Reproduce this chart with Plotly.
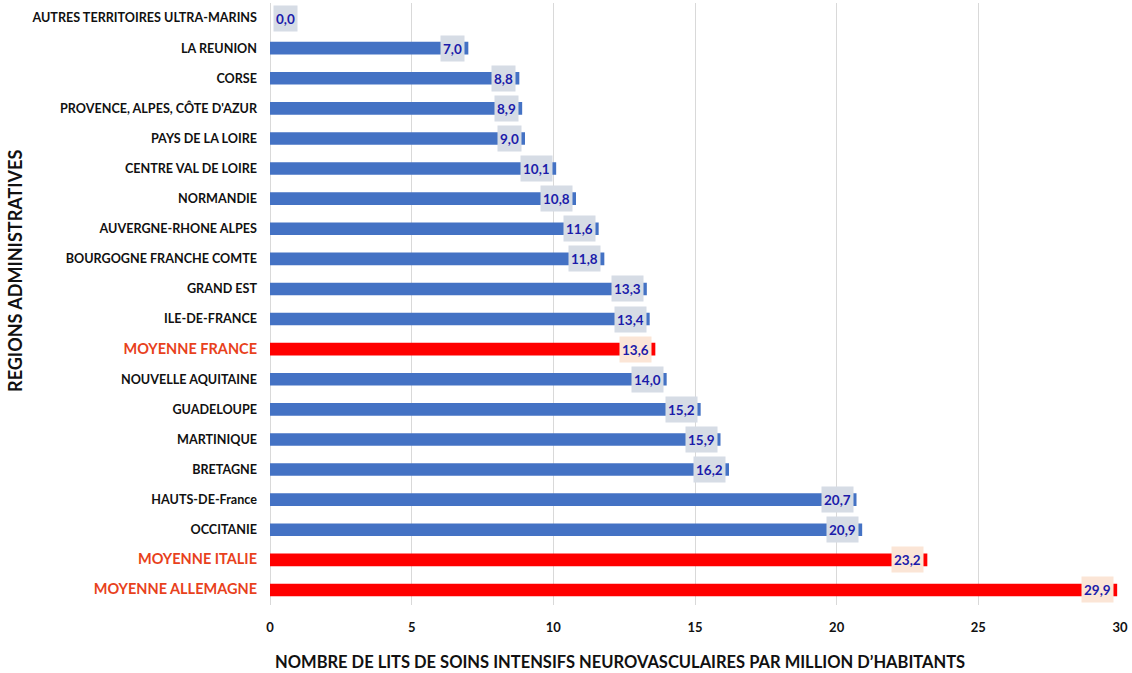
import plotly.graph_objects as go

regions = [
    "AUTRES TERRITOIRES ULTRA-MARINS", "LA REUNION", "CORSE", "PROVENCE, ALPES, CÔTE D'AZUR",
    "PAYS DE LA LOIRE", "CENTRE VAL DE LOIRE", "NORMANDIE", "AUVERGNE-RHONE ALPES",
    "BOURGOGNE FRANCHE COMTE", "GRAND EST", "ILE-DE-FRANCE", "MOYENNE FRANCE",
    "NOUVELLE AQUITAINE", "GUADELOUPE", "MARTINIQUE", "BRETAGNE", "HAUTS-DE-France",
    "OCCITANIE", "MOYENNE ITALIE", "MOYENNE ALLEMAGNE",
]
values = [0.0, 7.0, 8.8, 8.9, 9.0, 10.1, 10.8, 11.6, 11.8, 13.3, 13.4, 13.6,
          14.0, 15.2, 15.9, 16.2, 20.7, 20.9, 23.2, 29.9]
highlight = {"MOYENNE FRANCE", "MOYENNE ITALIE", "MOYENNE ALLEMAGNE"}

BLUE = "#4472c4"
RED = "#ff0000"
FONT = "Lato, Open Sans, sans-serif"
bar_colors = [RED if r in highlight else BLUE for r in regions]

fig = go.Figure(go.Bar(
    x=values, y=regions, orientation="h",
    marker=dict(color=bar_colors, line=dict(width=0)),
    width=0.42, hoverinfo="skip",
))

for r, v in zip(regions, values):
    hl = r in highlight
    fig.add_annotation(
        x=v, y=r, xref="x", yref="y",
        text=f"<b>{v:.1f}</b>".replace(".", ","),
        showarrow=False,
        xanchor="left" if v == 0 else "right",
        xshift=3 if v == 0 else -3,
        bgcolor="#fbe5d6" if hl else "#d6dce5",
        borderpad=2, height=21,
        font=dict(family=FONT, size=13.5, color="#1c1caa"),
    )

ticktext = []
for r in regions:
    if r in highlight:
        ticktext.append(f"<span style='font-size:14.5px;color:#e8411c'><b>{r}</b></span>")
    else:
        ticktext.append(f"<b>{r}</b>")

# axis titles as paper annotations
fig.add_annotation(
    x=(620 - 270) / 850, y=-0.095, xref="paper", yref="paper",
    text="<b>NOMBRE DE LITS DE SOINS INTENSIFS NEUROVASCULAIRES PAR MILLION D’HABITANTS</b>",
    showarrow=False, xanchor="center", yanchor="middle",
    font=dict(family=FONT, size=16.5, color="#111111"),
)
fig.add_annotation(
    x=-0.3, xref="paper", y=0.555, yref="paper",
    text="<b>REGIONS ADMINISTRATIVES</b>", textangle=-90,
    showarrow=False, xanchor="center", yanchor="middle",
    font=dict(family=FONT, size=18, color="#111111"),
)

fig.update_layout(
    width=1132, height=673,
    margin=dict(l=270, r=12, t=3, b=68),
    paper_bgcolor="white", plot_bgcolor="white",
    showlegend=False,
    font=dict(family=FONT, color="#111111"),
    xaxis=dict(
        range=[0, 30], dtick=5, showgrid=True, gridcolor="#d9d9d9", gridwidth=1,
        zeroline=True, zerolinecolor="#d9d9d9", zerolinewidth=1,
        tickfont=dict(size=13, color="#111111", family=FONT, weight="bold"),
        ticklabelstandoff=13,
        fixedrange=True,
    ),
    yaxis=dict(
        categoryorder="array", categoryarray=regions, autorange="reversed",
        tickmode="array", tickvals=regions, ticktext=ticktext,
        tickfont=dict(size=12.6, color="#111111"),
        ticklabelstandoff=12, showgrid=False,
        fixedrange=True,
    ),
)

fig.write_html("out.html")
